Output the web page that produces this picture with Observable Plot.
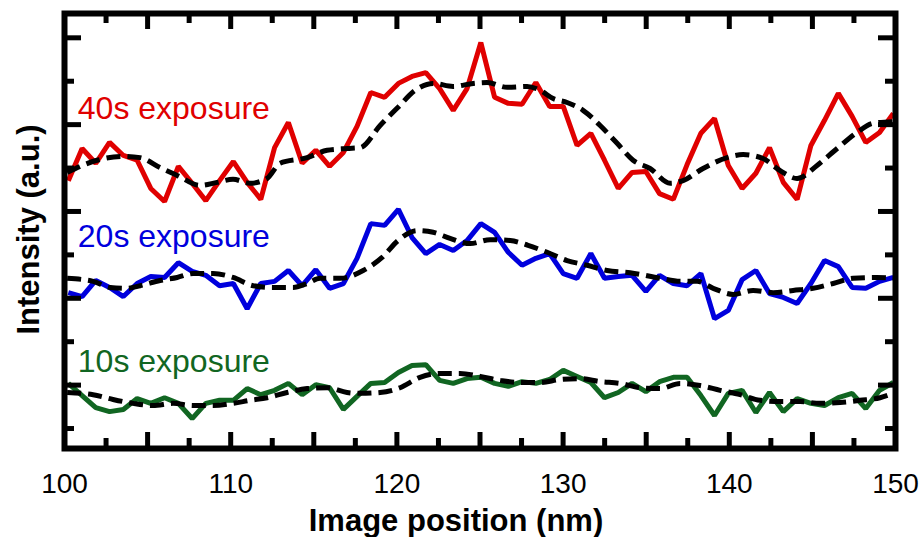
<!DOCTYPE html>
<html><head><meta charset="utf-8">
<script src="https://cdn.jsdelivr.net/npm/d3@7"></script>
<script src="https://cdn.jsdelivr.net/npm/@observablehq/plot@0.6"></script>
<style>body{margin:0;background:#fff}#chart svg{display:block}</style>
</head><body><div id="chart"></div>
<script>
// Image position grid (nm) of the measured profiles
const position = [100.23,101.06,101.88,102.71,103.54,104.37,105.19,106.02,106.85,107.68,108.50,109.33,110.16,110.99,111.81,112.64,113.47,114.30,115.12,115.95,116.78,117.60,118.43,119.26,120.09,120.91,121.74,122.57,123.39,124.22,125.05,125.88,126.70,127.53,128.36,129.19,130.01,130.84,131.67,132.49,133.32,134.15,134.98,135.80,136.63,137.46,138.29,139.11,139.94,140.77,141.60,142.42,143.25,144.08,144.91,145.73,146.56,147.39,148.21,149.04,149.87];

// Measured intensity (a.u., offset per exposure)
const exposure40 = [6.71,7.45,7.11,7.59,7.29,7.18,6.53,6.23,7.04,6.65,6.25,6.71,7.15,6.67,6.28,7.47,8.05,7.11,7.41,7.04,7.36,7.96,8.74,8.63,8.95,9.11,9.20,8.83,8.33,8.83,9.89,8.63,8.49,8.47,8.97,8.42,8.42,7.52,7.80,7.18,6.53,6.90,6.92,6.41,6.28,7.08,7.80,8.14,7.06,6.53,6.88,7.47,6.67,6.28,7.52,8.10,8.72,8.19,7.59,7.82,8.26];
const exposure20 = [4.13,4.04,4.41,4.25,4.04,4.34,4.50,4.48,4.82,4.62,4.53,4.29,4.34,3.76,4.34,4.39,4.64,4.29,4.66,4.23,4.34,4.92,5.72,5.68,6.05,5.40,5.03,5.24,5.10,5.33,5.72,5.52,5.06,4.76,4.92,5.03,4.57,4.46,5.03,4.46,4.50,4.53,4.16,4.53,4.34,4.29,4.57,3.53,3.72,4.43,4.64,4.11,4.02,3.88,4.34,4.87,4.73,4.25,4.23,4.39,4.48];
const exposure10 = [2.04,1.76,1.48,1.39,1.44,1.69,1.58,1.71,1.58,1.23,1.58,1.65,1.65,1.92,1.78,1.88,2.04,1.78,2.01,1.94,1.44,1.74,2.04,2.06,2.29,2.45,2.47,2.11,2.04,2.15,2.18,2.04,1.97,2.08,2.04,2.13,2.34,2.20,2.06,1.71,1.83,2.04,1.85,2.08,2.18,2.18,1.76,1.30,1.81,1.88,1.37,1.83,1.39,1.69,1.58,1.53,1.71,1.81,1.46,1.88,2.06];

// Smoothed (dashed) profiles
const smooth40X = [100.16,101.96,103.53,104.55,105.75,106.78,108.16,109.18,110.14,111.17,112.19,112.97,114.60,115.80,117.00,117.79,118.99,120.07,121.10,122.18,123.38,124.59,125.43,126.63,127.83,128.62,129.40,130.24,131.20,132.23,133.25,134.21,135.23,136.44,137.22,138.42,139.87,140.83,142.03,143.06,144.08,145.28,146.49,147.69,148.65,149.86];
const smooth40Y = [6.90,7.18,7.27,7.24,7.01,6.83,6.60,6.67,6.74,6.65,6.76,7.11,7.24,7.41,7.45,7.47,7.98,8.40,8.79,8.95,8.88,8.95,8.97,8.86,8.88,8.79,8.60,8.51,8.33,7.98,7.57,7.18,6.99,6.65,6.71,6.99,7.24,7.31,7.22,6.94,6.76,7.06,7.45,7.82,8.03,8.07];
const smooth20X = [100.16,101.72,102.74,103.77,104.55,105.75,106.78,107.74,108.94,110.14,111.35,112.55,113.75,114.60,115.38,116.59,117.97,119.11,120.07,121.22,122.18,123.20,124.41,125.61,126.82,127.89,129.04,130.24,131.44,132.65,134.03,135.84,137.04,138.06,139.03,140.23,141.43,142.64,143.84,145.04,146.25,147.45,148.89,149.86];
const smooth20Y = [4.46,4.39,4.25,4.23,4.29,4.41,4.48,4.57,4.57,4.48,4.29,4.25,4.25,4.34,4.46,4.46,4.64,4.94,5.33,5.56,5.52,5.38,5.26,5.35,5.33,5.22,5.06,4.87,4.76,4.64,4.59,4.46,4.39,4.39,4.23,4.09,4.18,4.13,4.18,4.23,4.34,4.46,4.48,4.46];
const smooth10X = [100.16,101.72,102.92,104.13,105.33,106.53,107.74,108.94,110.14,111.17,112.19,113.39,114.60,115.80,117.00,117.79,118.99,120.19,121.39,122.60,123.80,125.01,126.21,127.41,128.62,129.82,131.02,132.23,133.43,134.63,135.84,137.04,138.24,139.45,140.65,141.85,143.06,144.26,145.46,146.67,147.87,149.07,149.86];
const smooth10Y = [1.83,1.78,1.67,1.58,1.53,1.58,1.53,1.53,1.58,1.65,1.71,1.83,1.92,1.94,1.83,1.81,1.83,1.94,2.18,2.27,2.27,2.20,2.11,2.06,2.06,2.13,2.15,2.08,2.04,1.94,1.92,2.04,1.99,1.88,1.78,1.65,1.62,1.62,1.58,1.60,1.65,1.71,1.81];

// Labels and ticks
const seriesNames = ["40s exposure", "20s exposure", "10s exposure"];
const seriesColors = ["#e00000", "#0000dd", "#116622"];
const labelX = 100.8;
const labelY = [8.12, 5.19, 2.31];
const xTickLabels = [100, 110, 120, 130, 140, 150];
const xMajorTicks = [105, 110, 115, 120, 125, 130, 135, 140, 145];
const xMinorTicks = [102.5, 107.5, 112.5, 117.5, 122.5, 127.5, 132.5, 137.5, 142.5, 147.5];
const yMajorTicks = [2, 4, 6, 8, 10];
const yMinorTicks = [1, 3, 5, 7, 9];
const xTitle = "Image position (nm)";
const yTitle = "Intensity (a.u.)";

const rows = (ys) => ys.map((v, i) => ({x: position[i], y: v}));
const pairs = (xs, ys) => xs.map((x, i) => ({x, y: ys[i]}));
const measured = [exposure40, exposure20, exposure10].map(rows);
const smoothed = [pairs(smooth40X, smooth40Y), pairs(smooth20X, smooth20Y), pairs(smooth10X, smooth10Y)];

const plotH = 537 - 13 - 89, plotW = 922 - 64 - 27;
const tickStyle = {stroke: "black", strokeWidth: 5};

const marks = [];
measured.forEach((d, k) => marks.push(Plot.line(d, {x: "x", y: "y", stroke: seriesColors[k], strokeWidth: 5, strokeLinejoin: "miter", strokeLinecap: "butt", clip: true})));
smoothed.forEach((d) => marks.push(Plot.line(d, {x: "x", y: "y", stroke: "black", strokeWidth: 5, strokeDasharray: "14,7", strokeLinecap: "butt", curve: "monotone-x", clip: true})));
seriesNames.forEach((t, k) => marks.push(Plot.text([t], {x: labelX, y: labelY[k], text: d => d, fill: seriesColors[k], textAnchor: "start", lineAnchor: "bottom", fontSize: 32})));
marks.push(
  Plot.ruleX(xMajorTicks, {x: d => d, ...tickStyle, insetTop: plotH - 16}),
  Plot.ruleX(xMajorTicks, {x: d => d, ...tickStyle, insetBottom: plotH - 16}),
  Plot.ruleX(xMinorTicks, {x: d => d, ...tickStyle, insetTop: plotH - 10}),
  Plot.ruleX(xMinorTicks, {x: d => d, ...tickStyle, insetBottom: plotH - 10}),
  Plot.ruleY(yMajorTicks, {y: d => d, ...tickStyle, insetRight: plotW - 17}),
  Plot.ruleY(yMajorTicks, {y: d => d, ...tickStyle, insetLeft: plotW - 17}),
  Plot.ruleY(yMinorTicks, {y: d => d, ...tickStyle, insetRight: plotW - 10}),
  Plot.ruleY(yMinorTicks, {y: d => d, ...tickStyle, insetLeft: plotW - 10}),
  Plot.frame({stroke: "black", strokeWidth: 6}),
  Plot.axisX({ticks: xTickLabels, tickSize: 0, tickPadding: 25, fontSize: 28, label: null, tickFormat: d => String(d)}),
  Plot.text([xTitle], {text: d => d, frameAnchor: "bottom", textAnchor: "middle", dx: -24, dy: 82, lineAnchor: "bottom", fontSize: 31, fontWeight: "bold", fill: "black"}),
  Plot.text([yTitle], {text: d => d, frameAnchor: "left", textAnchor: "middle", rotate: -90, dx: -26, dy: -1.5, lineAnchor: "bottom", fontSize: 31, fontWeight: "bold", fill: "black"})
);

const chart = Plot.plot({
  width: 922, height: 537,
  marginLeft: 64, marginRight: 27, marginTop: 13, marginBottom: 89,
  style: {fontFamily: "'Liberation Sans', Arial, sans-serif", background: "#fff", color: "black"},
  x: {domain: [100, 150]},
  y: {domain: [0.54, 10.56], axis: null},
  marks
});
document.getElementById("chart").appendChild(chart);
</script>
</body></html>
